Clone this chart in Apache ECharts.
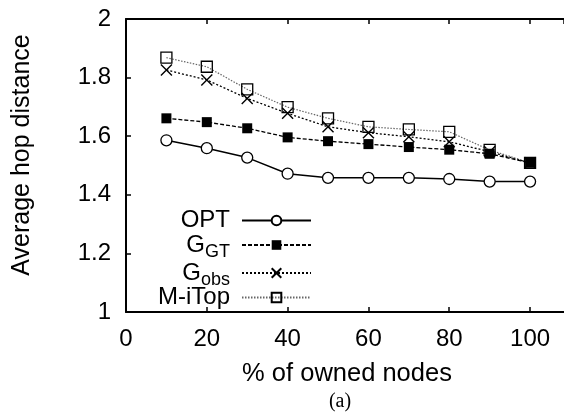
<!DOCTYPE html>
<html>
<head>
<meta charset="utf-8">
<script src="https://cdn.jsdelivr.net/npm/echarts@6/dist/echarts.min.js"></script>
<style>html,body{margin:0;padding:0;background:#fff;}#c{width:564px;height:417px;}</style>
</head>
<body>
<div id="c"></div>
<script>
var xValues = [10, 20, 30, 40, 50, 60, 70, 80, 90, 100];
var optValues = [1.586, 1.559, 1.527, 1.472, 1.458, 1.458, 1.458, 1.454, 1.445, 1.445];
var ggtValues = [1.661, 1.648, 1.627, 1.596, 1.583, 1.573, 1.563, 1.554, 1.540, 1.509];
var gobsValues = [1.826, 1.792, 1.729, 1.678, 1.632, 1.612, 1.598, 1.581, 1.547, 1.509];
var mitopValues = [1.868, 1.837, 1.760, 1.699, 1.661, 1.632, 1.623, 1.615, 1.553, 1.509];
var seriesNames = ['OPT', 'GGT', 'Gobs', 'M-iTop'];
var xTicks = [0, 20, 40, 60, 80, 100];
var yTicks = [1, 1.2, 1.4, 1.6, 1.8, 2];

function pairs(vals) { return xValues.map(function (x, i) { return [x, vals[i]]; }); }

var FONT = 'Liberation Sans, Arial, Helvetica, sans-serif';
var chart = echarts.init(document.getElementById('c'), null, {renderer: 'canvas'});
var crossPath = 'path://M0,0L10,10M10,0L0,10';

var legendLabels = {
  'OPT': '{m|OPT}',
  'GGT': '{m|G}{s|GT}',
  'Gobs': '{m|G}{s|obs}',
  'M-iTop': '{m|M-iTop}'
};

var option = {
  animation: false,
  backgroundColor: '#fff',
  grid: {left: 126, top: 19, right: 0, bottom: 105, containLabel: false},
  xAxis: [{
    type: 'value', min: 0, max: 108.4, interval: 20, position: 'bottom',
    axisLine: {show: true, onZero: false, lineStyle: {color: '#000', width: 2}},
    axisTick: {show: true, inside: true, length: 5, lineStyle: {color: '#000', width: 1.5}},
    axisLabel: {show: true, color: '#000', fontFamily: FONT, fontSize: 24, margin: 15,
      showMaxLabel: false,
      formatter: function (v) { return xTicks.indexOf(v) >= 0 ? String(v) : ''; }},
    splitLine: {show: false}
  }, {
    type: 'value', min: 0, max: 108.4, interval: 20, position: 'top',
    axisLine: {show: true, onZero: false, lineStyle: {color: '#000', width: 2}},
    axisTick: {show: true, inside: true, length: 5, lineStyle: {color: '#000', width: 1.5}},
    axisLabel: {show: false},
    splitLine: {show: false}
  }],
  yAxis: [{
    type: 'value', min: 1, max: 2, interval: 0.2,
    axisLine: {show: true, onZero: false, lineStyle: {color: '#000', width: 2}},
    axisTick: {show: true, inside: true, length: 5, lineStyle: {color: '#000', width: 1.5}},
    axisLabel: {show: true, color: '#000', fontFamily: FONT, fontSize: 24, margin: 15,
      formatter: function (v) { return String(+v.toFixed(1)); }},
    splitLine: {show: false}
  }],
  legend: {
    orient: 'vertical', align: 'right', right: 247, top: 203,
    itemWidth: 69, itemHeight: 12, itemGap: -4,
    data: seriesNames,
    formatter: function (name) { return legendLabels[name]; },
    textStyle: {
      color: '#000', fontFamily: FONT, fontSize: 24, lineHeight: 25, padding: [0, 7, 0, 0],
      rich: {
        m: {fontFamily: FONT, fontSize: 24, color: '#000', lineHeight: 25},
        s: {fontFamily: FONT, fontSize: 18, color: '#000', lineHeight: 25, padding: [14, 0, 0, 0]}
      }
    }
  },
  graphic: [
    {type: 'text', x: 22, y: 155, rotation: Math.PI / 2,
      style: {text: 'Average hop distance', fontFamily: FONT, fontSize: 25, fill: '#000',
        textAlign: 'center', textVerticalAlign: 'middle'}},
    {type: 'text', style: {text: '% of owned nodes', fontFamily: FONT, fontSize: 25.5, fill: '#000',
      textAlign: 'center', textVerticalAlign: 'middle'}, x: 347, y: 374},
    {type: 'text', style: {text: '(a)', fontFamily: 'Liberation Serif, Times New Roman, serif', fontSize: 20, fill: '#000',
      textAlign: 'center', textVerticalAlign: 'middle'}, x: 340, y: 402}
  ],
  series: [
    {name: 'OPT', type: 'line', data: pairs(optValues), z: 2,
      symbol: 'circle', symbolSize: 11,
      lineStyle: {color: '#000', width: 1.5, type: 'solid'},
      itemStyle: {color: '#fff', borderColor: '#000', borderWidth: 1.3}},
    {name: 'GGT', type: 'line', data: pairs(ggtValues), z: 5,
      symbol: 'rect', symbolSize: 10,
      lineStyle: {color: '#000', width: 1.3, type: [4, 2]},
      itemStyle: {color: '#000', borderColor: '#000', borderWidth: 0}},
    {name: 'Gobs', type: 'line', data: pairs(gobsValues), z: 3,
      symbol: crossPath, symbolSize: 11,
      lineStyle: {color: '#000', width: 1.3, type: [2, 2]},
      itemStyle: {color: '#000', borderColor: '#000', borderWidth: 1.4}},
    {name: 'M-iTop', type: 'line', data: pairs(mitopValues), z: 4,
      symbol: 'rect', symbolSize: 11,
      lineStyle: {color: '#666', width: 1.2, type: [1.5, 1.5]},
      itemStyle: {color: 'rgba(255,255,255,0)', borderColor: '#000', borderWidth: 1.3}}
  ]
};
chart.setOption(option);
</script>
</body>
</html>
